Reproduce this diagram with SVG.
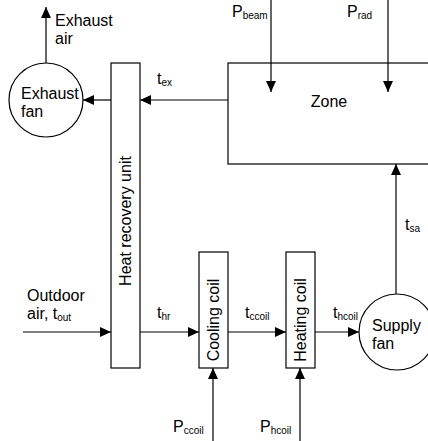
<svg xmlns="http://www.w3.org/2000/svg" width="428" height="441" viewBox="0 0 428 441">
<style>
.box{fill:#fff;stroke:#000;stroke-width:1.2}
.ln{fill:none;stroke:#000;stroke-width:1.2}
text{font-family:"Liberation Sans",Arial,sans-serif;font-size:16px;fill:#000}
.sub{font-size:10px}
</style>
<defs>
<marker id="ah" markerUnits="userSpaceOnUse" markerWidth="12" markerHeight="11" refX="11" refY="5" orient="auto">
<path d="M0,0 L11,5 L0,10 z" fill="#000"/>
</marker>
</defs>
<rect width="428" height="441" fill="#fff"/>
<g id="zone">
<rect class="box" x="228" y="63" width="215" height="101"/>
<text x="329" y="107" text-anchor="middle">Zone</text>
</g>
<g id="exhaust-fan">
<circle class="box" cx="46" cy="100" r="37"/>
<text x="21" y="99">Exhaust</text>
<text x="21" y="117">fan</text>
</g>
<g id="heat-recovery-unit">
<rect class="box" x="111" y="63" width="29" height="305"/>
<text transform="translate(131,221) rotate(-90)" text-anchor="middle">Heat recovery unit</text>
</g>
<g id="cooling-coil">
<rect class="box" x="199" y="252" width="29" height="116"/>
<text transform="translate(219,320) rotate(-90)" text-anchor="middle">Cooling coil</text>
</g>
<g id="heating-coil">
<rect class="box" x="286" y="252" width="29" height="116"/>
<text transform="translate(306,320) rotate(-90)" text-anchor="middle">Heating coil</text>
</g>
<g id="supply-fan">
<circle class="box" cx="397" cy="332" r="38"/>
<text x="372" y="331">Supply</text>
<text x="372" y="349">fan</text>
</g>
<g id="connectors">
<line class="ln" x1="46" y1="63" x2="46" y2="7" marker-end="url(#ah)"/>
<line class="ln" x1="111" y1="100" x2="83" y2="100" marker-end="url(#ah)"/>
<line class="ln" x1="228" y1="100" x2="140" y2="100" marker-end="url(#ah)"/>
<line class="ln" x1="271" y1="0" x2="271" y2="92" marker-end="url(#ah)"/>
<line class="ln" x1="388" y1="0" x2="388" y2="92" marker-end="url(#ah)"/>
<line class="ln" x1="23" y1="332" x2="111" y2="332" marker-end="url(#ah)"/>
<line class="ln" x1="140" y1="332" x2="199" y2="332" marker-end="url(#ah)"/>
<line class="ln" x1="228" y1="332" x2="286" y2="332" marker-end="url(#ah)"/>
<line class="ln" x1="315" y1="332" x2="359" y2="332" marker-end="url(#ah)"/>
<line class="ln" x1="396" y1="294" x2="396" y2="164" marker-end="url(#ah)"/>
<line class="ln" x1="213" y1="441" x2="213" y2="368" marker-end="url(#ah)"/>
<line class="ln" x1="300" y1="441" x2="300" y2="368" marker-end="url(#ah)"/>
</g>
<g id="labels">
<text x="55" y="26">Exhaust</text>
<text x="55" y="44">air</text>
<text x="157" y="84">t<tspan class="sub" dy="1.5">ex</tspan></text>
<text x="232" y="17">P<tspan class="sub" dy="1.5">beam</tspan></text>
<text x="347" y="17">P<tspan class="sub" dy="1.5">rad</tspan></text>
<text x="27" y="301">Outdoor</text>
<text x="27" y="319">air, t<tspan class="sub" dy="1.5">out</tspan></text>
<text x="157" y="318">t<tspan class="sub" dy="1.5">hr</tspan></text>
<text x="245" y="318">t<tspan class="sub" dy="1.5">ccoil</tspan></text>
<text x="333" y="318">t<tspan class="sub" dy="1.5">hcoil</tspan></text>
<text x="405" y="230">t<tspan class="sub" dy="1.5">sa</tspan></text>
<text x="173" y="432">P<tspan class="sub" dy="1.5">ccoil</tspan></text>
<text x="260" y="432">P<tspan class="sub" dy="1.5">hcoil</tspan></text>
</g>
</svg>
